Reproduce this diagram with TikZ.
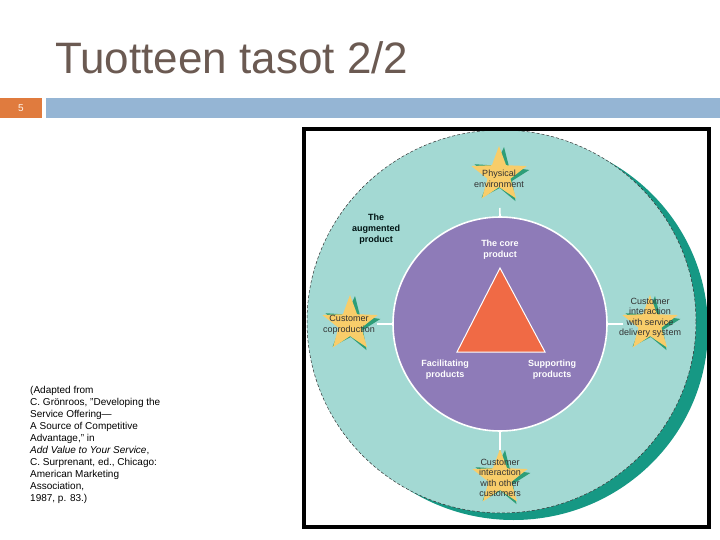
\documentclass[tikz,border=0pt]{standalone}
\usepackage{fontspec}
\setmainfont{Liberation Sans}
\usetikzlibrary{shapes.geometric}
\definecolor{titlebrown}{RGB}{107,90,82}
\definecolor{numorange}{RGB}{224,123,62}
\definecolor{barblue}{RGB}{149,181,212}
\definecolor{lightteal}{RGB}{163,217,211}
\definecolor{darkteal}{RGB}{22,152,132}
\definecolor{corepurple}{RGB}{142,123,184}
\definecolor{coreorange}{RGB}{240,106,69}
\definecolor{staryellow}{RGB}{248,205,106}
\definecolor{stargreen}{RGB}{46,158,120}
\definecolor{startext}{RGB}{50,50,50}

\tikzset{
  starbox/.style={star, star points=5, star point ratio=2.4, minimum size=58pt, inner sep=0pt, fill=staryellow, draw=none},
  starshade/.style={starbox, fill=stargreen, rotate=-6},
  startxt/.style={align=center, text=startext, font=\fontsize{9}{10.5}\selectfont},
  coretxt/.style={align=center, text=white, font=\bfseries\fontsize{9}{11}\selectfont},
  spoke/.style={white, line width=1.6pt}
}

\begin{document}
\begin{tikzpicture}[x=1pt, y=-1pt]
\useasboundingbox (0,0) rectangle (720,540);

% Title and header bar
\node[anchor=base west, text=titlebrown, font=\fontsize{44}{48}\selectfont, inner sep=0pt] (title) at (55,74) {Tuotteen tasot 2/2};
\fill[numorange] (0,98) rectangle (42,118);
\fill[barblue] (46,98) rectangle (720,118);
\node[text=white!92!orange, font=\fontsize{10}{12}\selectfont] (num) at (21,108) {5};

% Source note
\node[anchor=north west, align=left, inner sep=0pt, font=\fontsize{10}{12}\selectfont] (source) at (30,386) {(Adapted from\\C. Grönroos, "Developing the\\Service Offering—\\A Source of Competitive\\Advantage," in\\\textit{Add Value to Your Service},\\C. Surprenant, ed., Chicago:\\American Marketing\\Association,\\1987, p. 83.)};

% Augmented product ring with shadow
\begin{scope}
\clip (304,129) rectangle (709,527);
\fill[darkteal] (513.5,328.5) ellipse [x radius=194.5pt, y radius=191.5pt];
\end{scope}
\node[ellipse, minimum width=389pt, minimum height=383pt, fill=lightteal, draw=black!80, line width=0.5pt, dash pattern=on 3pt off 2pt] (ring) at (501.5,321.5) {};

% Frame
\draw[line width=4pt] (304,129) rectangle (709,527);

% Core circle
\node[circle, minimum size=214pt, fill=corepurple, draw=white, line width=1.6pt] (core) at (500,324) {};
\draw[fill=coreorange, draw=white, line width=1pt] (500,268) -- (457,352) -- (545,352) -- cycle;

% Stars
\node[starshade] (pe-sh) at (501,176) {};
\node[starbox] (pe) at (499,175) {};
\node[starshade] (cc-sh) at (352,325) {};
\node[starbox] (cc) at (350,324) {};
\node[starshade] (ci-sh) at (652,325) {};
\node[starbox] (ci) at (650,324) {};
\node[starshade] (co-sh) at (502,479) {};
\node[starbox] (co) at (500,478) {};

% Spokes
\draw[spoke, shorten >=33pt] (core.north) -- (pe.center);
\draw[spoke, shorten >=27pt] (core.west) -- (cc.center);
\draw[spoke, shorten >=27pt] (core.east) -- (ci.center);
\draw[spoke, shorten >=28pt] (core.south) -- (co.center);

% Star labels
\node[startxt] (pe-txt) at (499,179) {Physical\\environment};
\node[startxt] (cc-txt) at (349,325) {Customer\\coproduction};
\node[startxt] (ci-txt) at (650,318) {Customer\\interaction\\with service\\delivery system};
\node[startxt] (co-txt) at (500,478) {Customer\\interaction\\with other\\customers};

% Core labels
\node[coretxt] (core-txt) at (500,250) {The core\\product};
\node[coretxt] (fac-txt) at (445,370) {Facilitating\\products};
\node[coretxt] (sup-txt) at (552,370) {Supporting\\products};
\node[coretxt, text=black!85!teal] (aug-txt) at (376,229) {The\\augmented\\product};
\end{tikzpicture}
\end{document}
